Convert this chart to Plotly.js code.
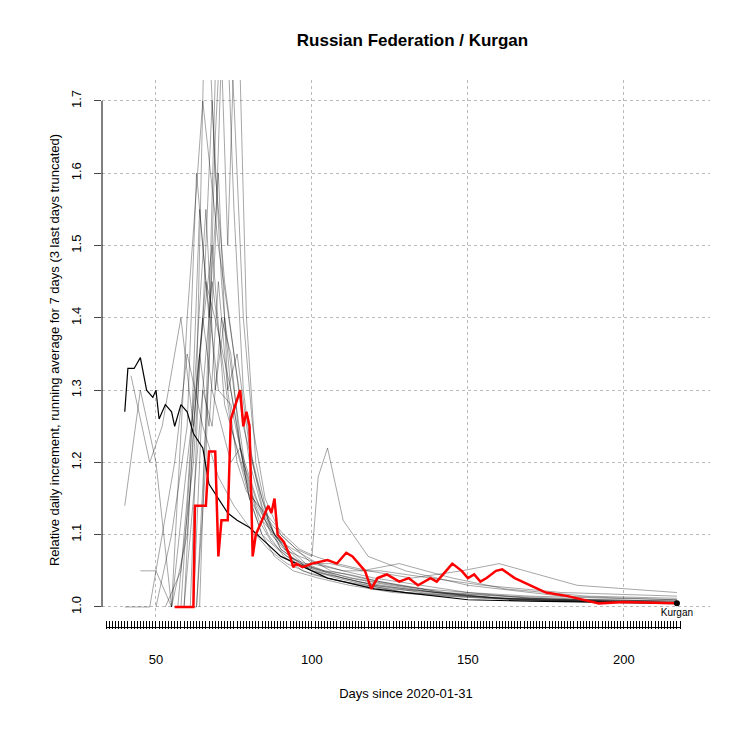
<!DOCTYPE html>
<html><head><meta charset="utf-8">
<script src="https://cdn.plot.ly/plotly-3.0.1.min.js"></script>
</head><body style="margin:0">
<div id="chart" style="width:750px;height:750px"></div>
<script>
// Kurgan (red) and Russia (black)
var kurganDays = [56,62,62.5,66,67,69,70,71,73,74,77,78,79,80,81,82,84,86,87,88,89,91,93,94,95,97,100,105,108,111,113,117,119,121,124,128,131,134,138,140,143,145,148,150,152,154,156,159,161,165,170,175,182,187,192,200,210,217];
var kurganVals = [1.0,1.0,1.14,1.14,1.215,1.215,1.07,1.12,1.12,1.26,1.30,1.25,1.27,1.25,1.07,1.10,1.12,1.14,1.13,1.15,1.10,1.09,1.07,1.055,1.06,1.055,1.06,1.065,1.06,1.075,1.07,1.05,1.025,1.04,1.045,1.035,1.04,1.03,1.04,1.035,1.05,1.06,1.05,1.04,1.045,1.035,1.04,1.05,1.052,1.04,1.03,1.02,1.015,1.01,1.005,1.007,1.006,1.005];
var russiaDays = [40,41,43,45,47,49,50,51,53,55,56,58,60,62,65,67,70,73,76,80,85,90,95,100,105,110,115,120,130,140,150,170,200,217];
var russiaVals = [1.27,1.33,1.33,1.345,1.30,1.29,1.30,1.26,1.28,1.27,1.25,1.28,1.27,1.24,1.22,1.17,1.15,1.13,1.12,1.11,1.09,1.07,1.06,1.05,1.04,1.035,1.03,1.025,1.02,1.015,1.01,1.008,1.006,1.005];

// other regions (grey), read approximately
var greyDays = [
  [40,45,50,55,60,65,70,75,80,85,90,100,110,120,140,160,180,200,217],
  [42,48,52,58,62,66,70,74,78,82,88,95,105,115,130,150,170,190,217],
  [55,60,63,66,69,72,75,78,82,86,90,96,104,112,125,140,160,185,217],
  [58,61,64,67,70,73,76,80,84,88,93,100,108,118,130,145,165,190,217],
  [60,63,66,69,72,75,78,81,85,90,95,100,110,120,135,150,170,195,217],
  [45,50,55,60,64,68,72,76,80,85,90,98,106,116,128,142,160,185,217],
  [62,65,68,71,74,77,80,84,88,92,97,103,110,120,135,150,165,190,217],
  [50,55,60,63,66,70,74,78,82,86,91,97,105,115,130,148,168,195,217],
  [64,67,70,73,76,79,82,86,90,95,100,102,105,110,118,130,150,180,217],
  [57,60,63,66,69,72,75,79,83,87,92,98,106,116,128,145,162,188,217],
  [40,44,48,52,56,60,65,70,75,80,86,92,100,110,125,140,160,190,217],
  [59,62,65,68,71,74,77,80,83,87,91,96,102,110,122,138,155,180,217],
  [61,64,67,70,73,76,79,83,87,91,96,101,108,118,132,148,160,185,217],
  [56,59,62,65,68,71,74,77,80,84,88,94,102,112,126,142,165,190,217],
  [63,66,69,72,75,78,81,84,88,93,98,104,112,122,136,150,170,195,217],
  [53,58,62,65,68,71,74,77,80,84,89,95,103,113,127,143,163,190,217]
];
var greyVals = [
  [1.14,1.30,1.20,1.00,1.40,1.70,1.50,1.35,1.20,1.12,1.08,1.05,1.04,1.03,1.02,1.015,1.01,1.008,1.006],
  [1.32,1.20,1.25,1.40,1.25,1.45,1.30,1.28,1.20,1.15,1.10,1.06,1.045,1.035,1.025,1.015,1.01,1.008,1.006],
  [1.00,1.10,1.30,1.90,1.60,1.45,1.35,1.25,1.18,1.12,1.08,1.06,1.05,1.04,1.03,1.02,1.012,1.01,1.008],
  [1.00,1.20,1.55,1.40,1.60,1.30,1.35,1.22,1.15,1.10,1.07,1.05,1.04,1.03,1.02,1.015,1.01,1.007,1.005],
  [1.00,1.00,1.25,1.50,1.90,1.70,1.40,1.25,1.15,1.10,1.08,1.06,1.05,1.04,1.03,1.02,1.012,1.008,1.006],
  [1.05,1.05,1.00,1.20,1.35,1.50,1.28,1.22,1.16,1.12,1.09,1.07,1.05,1.04,1.03,1.02,1.012,1.008,1.006],
  [1.00,1.30,1.45,1.35,1.25,1.20,1.15,1.12,1.10,1.08,1.06,1.05,1.04,1.03,1.02,1.015,1.012,1.01,1.008],
  [1.00,1.10,1.25,1.60,1.45,1.38,1.30,1.20,1.14,1.10,1.07,1.05,1.04,1.03,1.02,1.015,1.01,1.008,1.006],
  [1.00,1.40,1.90,1.50,1.90,1.40,1.20,1.12,1.10,1.08,1.07,1.18,1.22,1.12,1.07,1.05,1.03,1.015,1.01],
  [1.00,1.15,1.35,1.55,1.30,1.40,1.30,1.18,1.12,1.09,1.07,1.06,1.06,1.05,1.06,1.04,1.025,1.015,1.012],
  [1.00,1.00,1.00,1.10,1.20,1.35,1.25,1.18,1.14,1.11,1.08,1.06,1.045,1.035,1.025,1.02,1.012,1.008,1.006],
  [1.00,1.25,1.40,1.70,1.45,1.30,1.22,1.18,1.14,1.10,1.08,1.07,1.06,1.05,1.05,1.04,1.03,1.02,1.015],
  [1.00,1.35,1.25,1.45,1.30,1.20,1.16,1.14,1.12,1.10,1.08,1.07,1.06,1.05,1.04,1.05,1.06,1.03,1.02],
  [1.00,1.00,1.15,1.30,1.25,1.40,1.35,1.22,1.15,1.10,1.07,1.05,1.04,1.03,1.02,1.015,1.01,1.007,1.004],
  [1.00,1.20,1.65,1.90,1.55,1.30,1.20,1.14,1.10,1.08,1.06,1.05,1.045,1.035,1.025,1.02,1.015,1.012,1.01],
  [1.00,1.05,1.20,1.40,1.30,1.25,1.20,1.22,1.15,1.10,1.08,1.06,1.05,1.04,1.03,1.02,1.015,1.01,1.008]
];

var dayTicks = [];
for (var d = 34; d <= 218; d++) dayTicks.push(d);

var traces = [];
for (var i = 0; i < greyDays.length; i++) {
  traces.push({x: greyDays[i], y: greyVals[i], mode: 'lines', line: {color: 'rgba(0,0,0,0.35)', width: 1}, hoverinfo: 'skip'});
}
traces.push({x: russiaDays, y: russiaVals, mode: 'lines', line: {color: 'black', width: 1.2}});
traces.push({x: kurganDays, y: kurganVals, mode: 'lines', line: {color: 'red', width: 2.5}});
traces.push({x: [kurganDays[kurganDays.length-1]], y: [kurganVals[kurganVals.length-1]], mode: 'markers+text',
  marker: {color: 'black', size: 6}, text: ['Kurgan'], textposition: 'bottom center', textfont: {size: 10, color: 'black'}});
// dense day ticks on a second axis
traces.push({x: [34, 218], y: [0.9, 0.9], xaxis: 'x2', mode: 'markers', marker: {opacity: 0}, hoverinfo: 'skip'});

var layout = {
  width: 750, height: 750, showlegend: false,
  margin: {l: 102, r: 40, t: 80, b: 130},
  paper_bgcolor: 'white', plot_bgcolor: 'white',
  font: {family: 'Liberation Sans, Arial', size: 13, color: 'black'},
  title: {text: '<b>Russian Federation / Kurgan</b>', x: 0.55, y: 0.955, font: {size: 17}},
  xaxis: {range: [32.7, 227.6], tickvals: [50, 100, 150, 200], showgrid: true, gridcolor: '#bbb', griddash: 'dot',
    zeroline: false, showline: false, ticks: '', ticklabelstandoff: 30,
    title: {text: 'Days since 2020-01-31', standoff: 22, font: {size: 13}}},
  xaxis2: {overlaying: 'x', matching: 'x', range: [32.7, 227.6], tickvals: dayTicks, ticks: 'outside', ticklen: 8,
    tickcolor: 'black', showticklabels: false, showgrid: false, zeroline: false, anchor: 'y', side: 'bottom'},
  yaxis: {range: [0.982, 1.729], tickvals: [1.0, 1.1, 1.2, 1.3, 1.4, 1.5, 1.6, 1.7], tickformat: '.1f', tickangle: -90,
    ticks: 'outside', ticklen: 7, ticklabelstandoff: 8, showgrid: true, gridcolor: '#bbb', griddash: 'dot', zeroline: false, showline: false,
    title: {text: 'Relative daily increment, running average for 7 days (3 last days truncated)', standoff: 6, font: {size: 13}}},
  shapes: [
    {type: 'line', xref: 'paper', yref: 'y', x0: 0, x1: 0, y0: 1.0, y1: 1.7, line: {color: 'black', width: 1}},
    {type: 'line', xref: 'x', yref: 'paper', x0: 34, x1: 218, y0: -0.014, y1: -0.014, line: {color: 'black', width: 1}}
  ]
};
Plotly.newPlot('chart', traces, layout, {staticPlot: true});
</script>
</body></html>
